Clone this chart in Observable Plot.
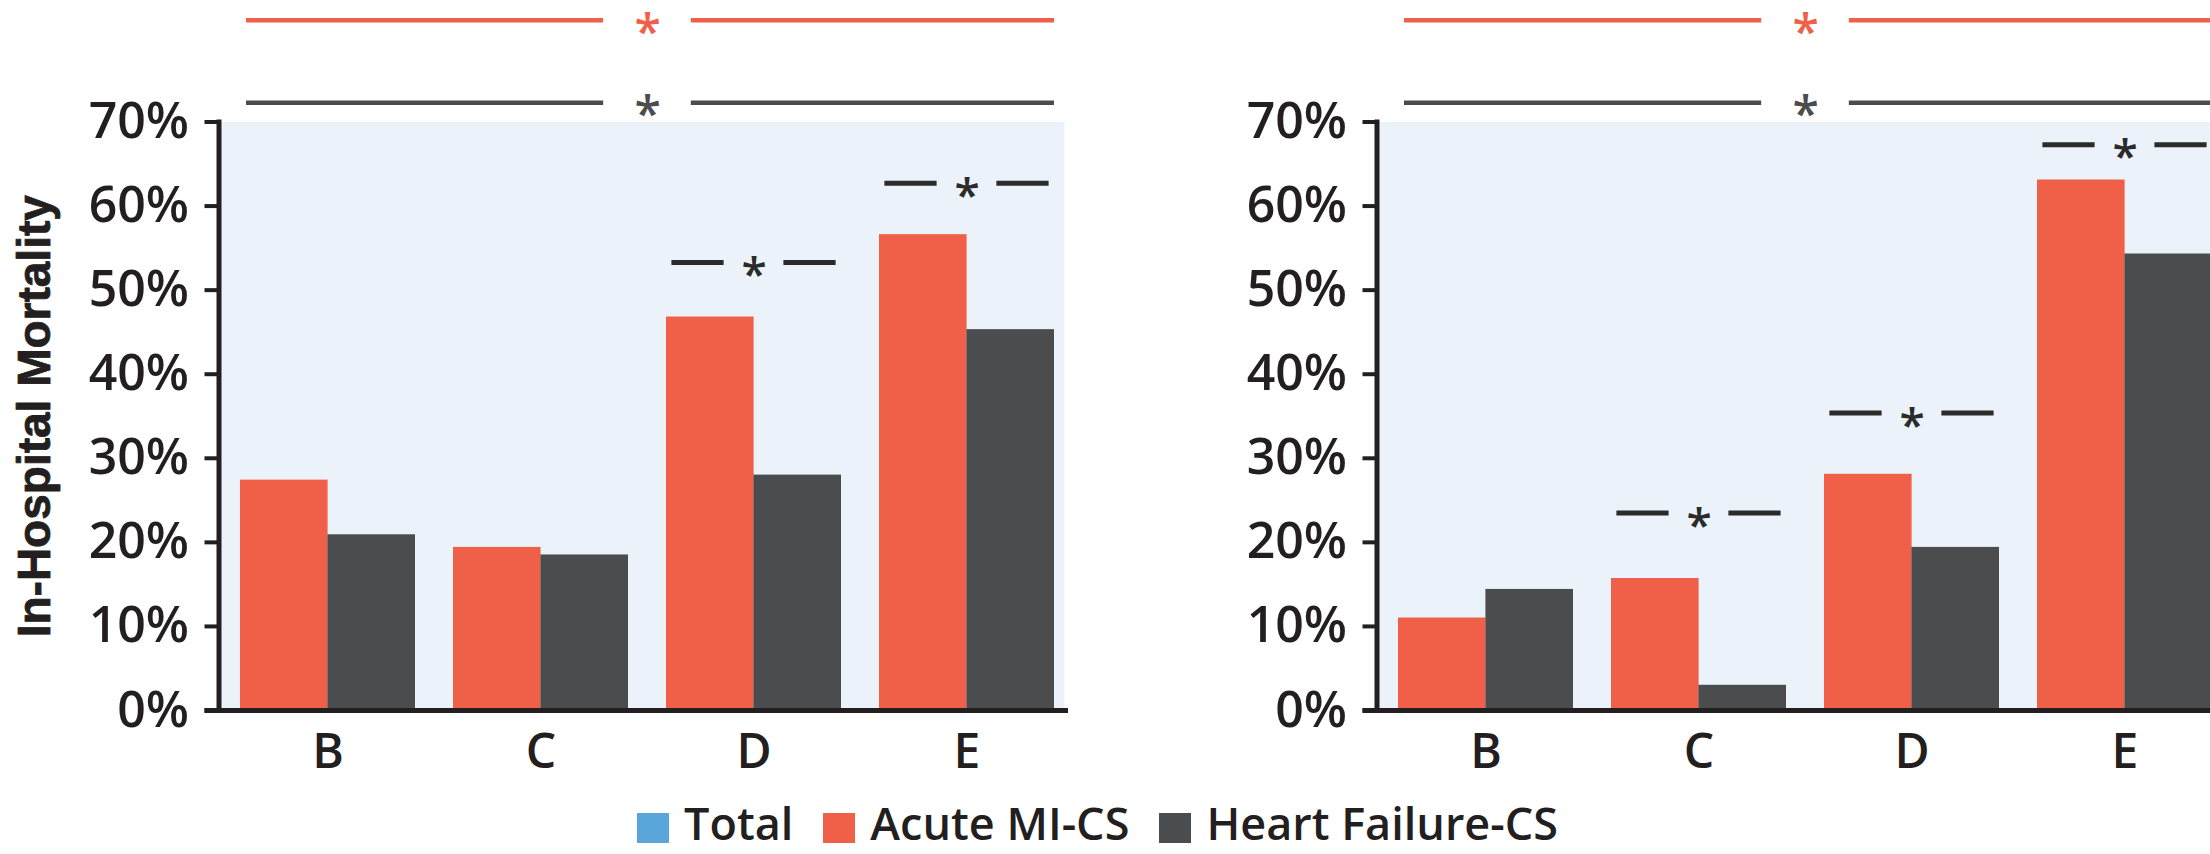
<!DOCTYPE html>
<html><head><meta charset="utf-8">
<script src="https://cdn.jsdelivr.net/npm/d3@7"></script>
<script src="https://cdn.jsdelivr.net/npm/@observablehq/plot@0.6"></script>
<style>
html,body{margin:0;padding:0;background:#fff;overflow:hidden;width:2210px;height:854px;}
#charts{display:flex;width:2400px;}
#charts svg{flex:none;display:block;overflow:visible;}
#legend{padding-left:637px;margin-top:10px;}
#legend .lg-swatches{margin:0;line-height:1;}
#legend .lg-swatch{margin-right:30px;}
#legend .lg-swatch > svg{margin-right:15px;position:relative;top:5px;}
</style></head><body>
<div id="charts"></div>
<div id="legend"></div>
<script>
// ---- data ----
const groups = ["B", "C", "D", "E"];
const seriesNames = ["Total", "Acute MI-CS", "Heart Failure-CS"];
const seriesColors = ["#5aa5da", "#f05f48", "#4b4c4e"];
const yTicks = [0, 10, 20, 30, 40, 50, 60, 70];
const yLabel = "In-Hospital Mortality";

const leftAMI = [27.4, 19.4, 46.8, 56.6];
const leftHF = [20.9, 18.5, 28.0, 45.3];
const rightAMI = [11.0, 15.7, 28.1, 63.1];
const rightHF = [14.4, 3.0, 19.4, 54.3];

const leftSigGroups = ["D", "E"];
const leftSigLevels = [53.3, 62.7];
const rightSigGroups = ["C", "D", "E"];
const rightSigLevels = [23.5, 35.4, 67.3];
const overallSigLevels = [82.1, 72.3]; // Acute MI-CS trend, Heart Failure-CS trend

// ---- layout ----
const W = 1158, H = 790, mL = 218.5, mR = 94, mT = 121.5, mB = 80;
const pIn = 0.18, pOut = 0.073, al = 0.66;
const ink = "#231f20";

function panel(ami, hf, sigGroups, sigLevels, showLabel) {
  const xs = d3.scaleBand().domain(groups).range([mL, W - mR]).paddingInner(pIn).paddingOuter(pOut).align(al);
  const bw = xs.bandwidth();
  const gap = xs("D") - xs("C") - bw;
  const amiData = groups.map((g, i) => ({group: g, series: seriesNames[1], value: ami[i]}));
  const hfData = groups.map((g, i) => ({group: g, series: seriesNames[2], value: hf[i]}));
  const sig = sigGroups.map((g, i) => ({group: g, level: sigLevels[i]}));
  const top = overallSigLevels.map((l, i) => ({level: l, series: seriesNames[i + 1]}));
  const dash = 52, starGap = 30;
  const outer = bw / 2 - starGap - dash;
  const topGap = 44;
  const starDx = bw / 2 + gap / 2;

  const marks = [
    Plot.frame({fill: "#ebf2fa", stroke: "none"}),
    Plot.barY(amiData, {x: "group", y: "value", fill: "series", insetRight: bw / 2}),
    Plot.barY(hfData, {x: "group", y: "value", fill: "series", insetLeft: bw / 2}),
    Plot.ruleY(sig, {y: "level", x1: "group", x2: "group", insetLeft: outer, insetRight: bw - outer - dash, stroke: "#2b2b2b", strokeWidth: 5}),
    Plot.ruleY(sig, {y: "level", x1: "group", x2: "group", insetLeft: bw - outer - dash, insetRight: outer, stroke: "#2b2b2b", strokeWidth: 5}),
    Plot.text(sig, {x: "group", y: "level", text: () => "*", fontSize: 46, fontWeight: 600, dy: 13, fill: "#2b2b2b"}),
    Plot.ruleY(top, {y: "level", x1: () => groups[0], x2: () => groups[1], insetLeft: 6, insetRight: topGap - gap / 2, stroke: "series", strokeWidth: 4.5}),
    Plot.ruleY(top, {y: "level", x1: () => groups[2], x2: () => groups[3], insetLeft: topGap - gap / 2, insetRight: 0, stroke: "series", strokeWidth: 4.5}),
    Plot.text(top, {x: () => groups[1], y: "level", text: () => "*", dx: starDx, dy: 13, fill: "series", fontSize: 48, fontWeight: 600}),
    Plot.axisY({ticks: yTicks, tickFormat: d => d + "%", tickSize: 14, tickPadding: 16, fontSize: 50, fontWeight: 600, strokeWidth: 4, stroke: ink, fill: ink, label: null}),
    Plot.axisX({tickSize: 0, tickPadding: 23, fontSize: 48, fontWeight: 600, fill: ink, label: null}),
    Plot.frame({anchor: "left", stroke: ink, strokeWidth: 5}),
    Plot.ruleY([0], {insetLeft: -14, insetRight: -4, stroke: ink, strokeWidth: 5})
  ];
  if (showLabel) {
    marks.push(Plot.text([yLabel], {frameAnchor: "left", textAnchor: "middle", rotate: -90, dx: -183.5, text: d => d, fontSize: 46, fontWeight: 700, fontFamily: "Liberation Sans", fill: ink, stroke: ink, strokeWidth: 0.8}));
  }
  return Plot.plot({
    width: W, height: H,
    marginLeft: mL, marginRight: mR, marginTop: mT, marginBottom: mB,
    style: {fontFamily: "Open Sans", color: ink, background: "transparent", overflow: "visible"},
    x: {domain: groups, paddingInner: pIn, paddingOuter: pOut, align: al},
    y: {domain: [0, 70]},
    color: {domain: seriesNames, range: seriesColors},
    marks
  });
}

const charts = document.getElementById("charts");
charts.appendChild(panel(leftAMI, leftHF, leftSigGroups, leftSigLevels, true));
charts.appendChild(panel(rightAMI, rightHF, rightSigGroups, rightSigLevels, false));

document.getElementById("legend").appendChild(Plot.legend({
  color: {type: "ordinal", domain: seriesNames, range: seriesColors},
  className: "lg",
  swatchWidth: 32, swatchHeight: 30,
  style: {fontFamily: "Open Sans", fontSize: "45px", fontWeight: 600, color: ink}
}));
</script>
</body></html>
